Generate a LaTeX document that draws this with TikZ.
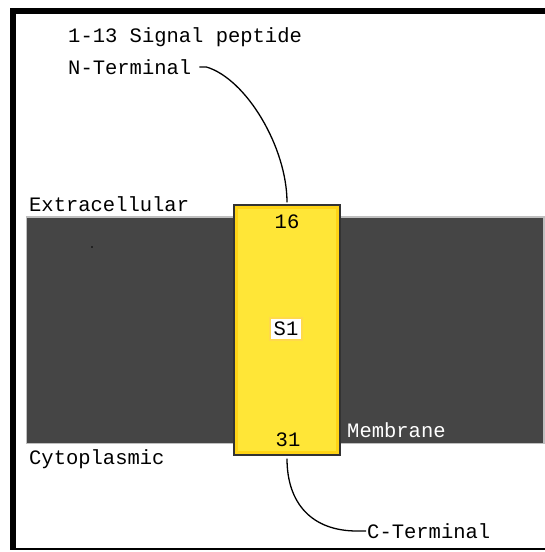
\documentclass[tikz,border=0pt]{standalone}
\usepackage{fontspec}
\setmonofont{Liberation Mono}
\usepackage{tikz}

\definecolor{membranegray}{RGB}{69,69,69}
\definecolor{helixorange}{RGB}{255,200,0}
\definecolor{helixyellow}{RGB}{255,230,55}

\tikzset{
  labeltext/.style={font=\ttfamily\fontsize{20.5}{22}\selectfont, inner sep=0pt, anchor=west},
  helixbox/.style={draw=black!80, line width=1.2pt, fill=helixorange, minimum width=106pt, minimum height=250pt, inner sep=0pt},
  connector/.style={draw=black, line width=1.3pt}
}

\begin{document}
\begin{tikzpicture}[x=1pt, y=-1pt]
    \useasboundingbox[fill=white] (0,0) rectangle (545,552);

    % Frame
    \fill[black] (10,8) rectangle (545,14);
    \fill[black] (10,8) rectangle (16,550);
    \fill[black] (10,548) rectangle (545,550);

    % Membrane
    \fill[black!25] (26,216) rectangle (545,444);
    \fill[membranegray] (27,218) rectangle (543,443);
    \fill[black] (92,247) circle (0.8);

    % Helix
    \node[helixbox] (tm) at (287,330) {};
    \fill[helixorange!60!helixyellow] ([shift={(2,2)}]tm.north west) rectangle ([shift={(-2,-2)}]tm.south east);
    \fill[helixyellow] ([shift={(5,5)}]tm.north west) rectangle ([shift={(-5,-5)}]tm.south east);
    \node[font=\ttfamily\fontsize{20.5}{22}\selectfont, inner sep=0pt] (first) at (287,222) {16};
    \node[font=\ttfamily\fontsize{20.5}{22}\selectfont, inner sep=0pt] (last) at (288,440) {31};
    \node[font=\ttfamily\fontsize{20.5}{22}\selectfont, fill=white, draw=helixorange!70, line width=2pt, inner xsep=4pt, inner ysep=4.5pt] (seg) at (286,329) {S1};

    % Labels
    \node[labeltext] (sigpep) at (68,37) {1-13 Signal peptide};
    \node[labeltext] (nterm) at (68,67) {N-Terminal};
    \node[labeltext] (extra) at (29,204) {Extracellular};
    \node[labeltext] (cyto) at (29,459) {Cytoplasmic};
    \node[labeltext, text=white] (memb) at (347,430) {Membrane};
    \node[labeltext] (cterm) at (367,531) {C-Terminal};

    % Termini
    \draw[connector] ([xshift=8pt]nterm.east) -- ++(7,0) .. controls +(40,12) and +(0,-55) .. ([yshift=2pt]tm.north);
    \draw[connector] ([yshift=-3pt]tm.south) .. controls +(0,45) and +(-45,0) .. ([xshift=-10pt]cterm.west) -- ([xshift=-1pt]cterm.west);
\end{tikzpicture}
\end{document}
